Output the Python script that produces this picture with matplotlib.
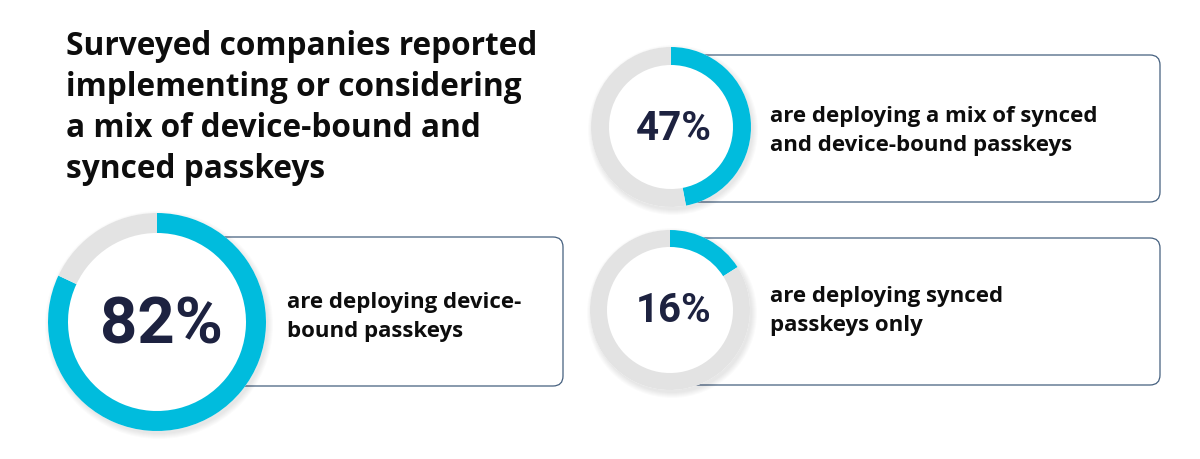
import matplotlib
matplotlib.use("Agg")
import matplotlib.pyplot as plt
from matplotlib.patches import FancyBboxPatch, Circle

# data
title = "Surveyed companies reported\nimplementing or considering\na mix of device-bound and\nsynced passkeys"
shares = [82, 47, 16]
labels = ["are deploying device-\nbound passkeys",
          "are deploying a mix of synced\nand device-bound passkeys",
          "are deploying synced\npasskeys only"]

# layout (pixel space, y up)
centers = [(157, 137), (671, 332), (670, 149)]
radii = [109, 80, 80]
rings = [20, 18, 17]
boxes = [(200, 73, 363, 149), (650, 257, 510, 147), (650, 74, 510, 147)]
text_pos = [(287, 143), (770, 329), (770, 149)]
pct_pos = [(161, 134), (674, 331), (674, 149)]
pct_size = [47, 29, 29]

cyan = "#00BCDD"
grey = "#E3E3E3"
navy = "#1D2240"
edge = "#45607F"

plt.rcParams['font.family'] = ['Open Sans', 'DejaVu Sans']

fig = plt.figure(figsize=(12, 4.6), dpi=100)
ax = fig.add_axes([0, 0, 1, 1])

ax.text(66, 460 - 30, title, fontsize=22.8, fontweight='bold', color='#0d0d0d',
        ha='left', va='top', linespacing=1.32)

for i in range(len(shares)):
    bx, by, bw, bh = boxes[i]
    ax.add_patch(FancyBboxPatch((bx, by), bw, bh,
                                boxstyle="round,pad=0,rounding_size=10",
                                facecolor='white', edgecolor=edge, lw=0.9, zorder=0.5))
    cx, cy = centers[i]
    r = radii[i]
    # soft shadow
    for k in range(6):
        ax.add_patch(Circle((cx + 2, cy - 3), r + k, facecolor='#000000',
                            alpha=0.015, edgecolor='none', zorder=0.6))
    ax.add_patch(Circle((cx, cy), r, facecolor='white', edgecolor='none', zorder=0.7))
    wedges, _ = ax.pie([shares[i], 100 - shares[i]], colors=[cyan, grey],
                       startangle=90, counterclock=False, center=(cx, cy),
                       radius=r, frame=True,
                       wedgeprops=dict(width=rings[i], edgecolor='none'))
    for w in wedges:
        w.set_zorder(1)
    px, py = pct_pos[i]
    ax.text(px, py, f"{shares[i]}%", fontsize=pct_size[i], fontweight='bold',
            color=navy, ha='center', va='center', family=['Roboto', 'DejaVu Sans'],
            zorder=2)
    tx, ty = text_pos[i]
    ax.text(tx, ty, labels[i], fontsize=16, fontweight='bold', color='#0d0d0d',
            ha='left', va='center', linespacing=1.45, zorder=2)

ax.set_xlim(0, 1200)
ax.set_ylim(0, 460)
ax.set_aspect('equal')
ax.axis('off')

fig.savefig("out.png", dpi=100, facecolor='white')
